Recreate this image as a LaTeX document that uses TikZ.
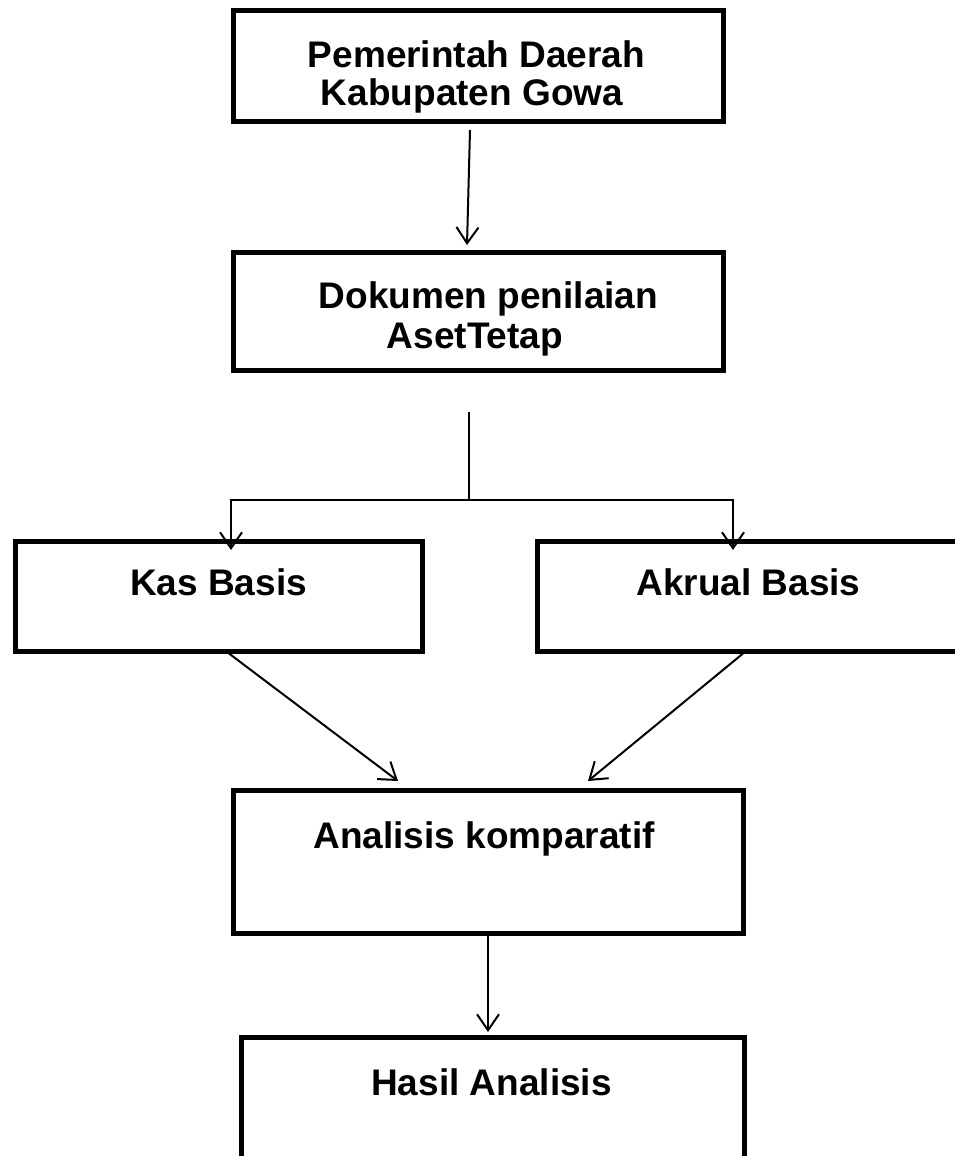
\documentclass[tikz,border=0pt]{standalone}
\usepackage{fontspec}
\setmainfont{Liberation Sans}
\usetikzlibrary{arrows.meta}

\tikzset{
  box/.style={draw=black, line width=5pt, rectangle, inner sep=0pt},
  label text/.style={anchor=base, inner sep=0pt, font=\bfseries\fontsize{37}{44}\selectfont},
  link/.style={draw=black, line width=2pt},
  arr/.style={link, -{Straight Barb[length=16pt,width=22pt,line width=2pt]}}
}

\begin{document}
\begin{tikzpicture}[x=1pt, y=-1pt]
  \useasboundingbox (0,0) rectangle (955,1156);
  \clip (0,0) rectangle (955,1156);

  % boxes
  \node[box, minimum width=490pt, minimum height=110pt] (pemda) at (478,66) {};
  \node[box, minimum width=490pt, minimum height=118pt] (dok) at (478,311) {};
  \node[box, minimum width=407pt, minimum height=110pt] (kas) at (218.5,596) {};
  \node[box, minimum width=438pt, minimum height=110pt] (akrual) at (756,596) {};
  \node[box, minimum width=510pt, minimum height=143pt] (anal) at (488,861.5) {};
  \node[box, minimum width=503pt, minimum height=143pt] (hasil) at (492.5,1108.5) {};

  % box texts
  \node[label text] (pemdaA) at (476.5,67) {Pemerintah Daerah};
  \node[label text] (pemdaB) at (472,105) {Kabupaten Gowa};
  \node[label text] (dokA) at (488.5,308) {Dokumen penilaian};
  \node[label text] (dokB) at (475,348) {AsetTetap};
  \node[label text] (kasT) at (218.5,595) {Kas Basis};
  \node[label text] (akrualT) at (748.5,595) {Akrual Basis};
  \node[label text] (analT) at (484,848) {Analisis komparatif};
  \node[label text] (hasilT) at (491.5,1095) {Hasil Analisis};

  % connectors
  \draw[arr] ([xshift=-8pt,yshift=-6.5pt]pemda.south) -- ([xshift=-11pt,yshift=4.5pt]dok.north);

  \coordinate (split) at (469,500);
  \draw[link] ([xshift=-9pt,yshift=-39.5pt]dok.south) -- (split);
  \draw[arr] (split) -| ([xshift=12.5pt,yshift=-11.5pt]kas.north);
  \draw[arr] (split) -| ([xshift=-23pt,yshift=-11.5pt]akrual.north);

  \draw[arr] ([xshift=10.5pt]kas.south) -- ([xshift=-90pt,yshift=6.5pt]anal.north);
  \draw[arr] ([xshift=-13pt]akrual.south) -- ([xshift=100pt,yshift=6.5pt]anal.north);

  \draw[arr] (anal.south) -- ([xshift=-4.5pt,yshift=2.5pt]hasil.north);
\end{tikzpicture}
\end{document}
